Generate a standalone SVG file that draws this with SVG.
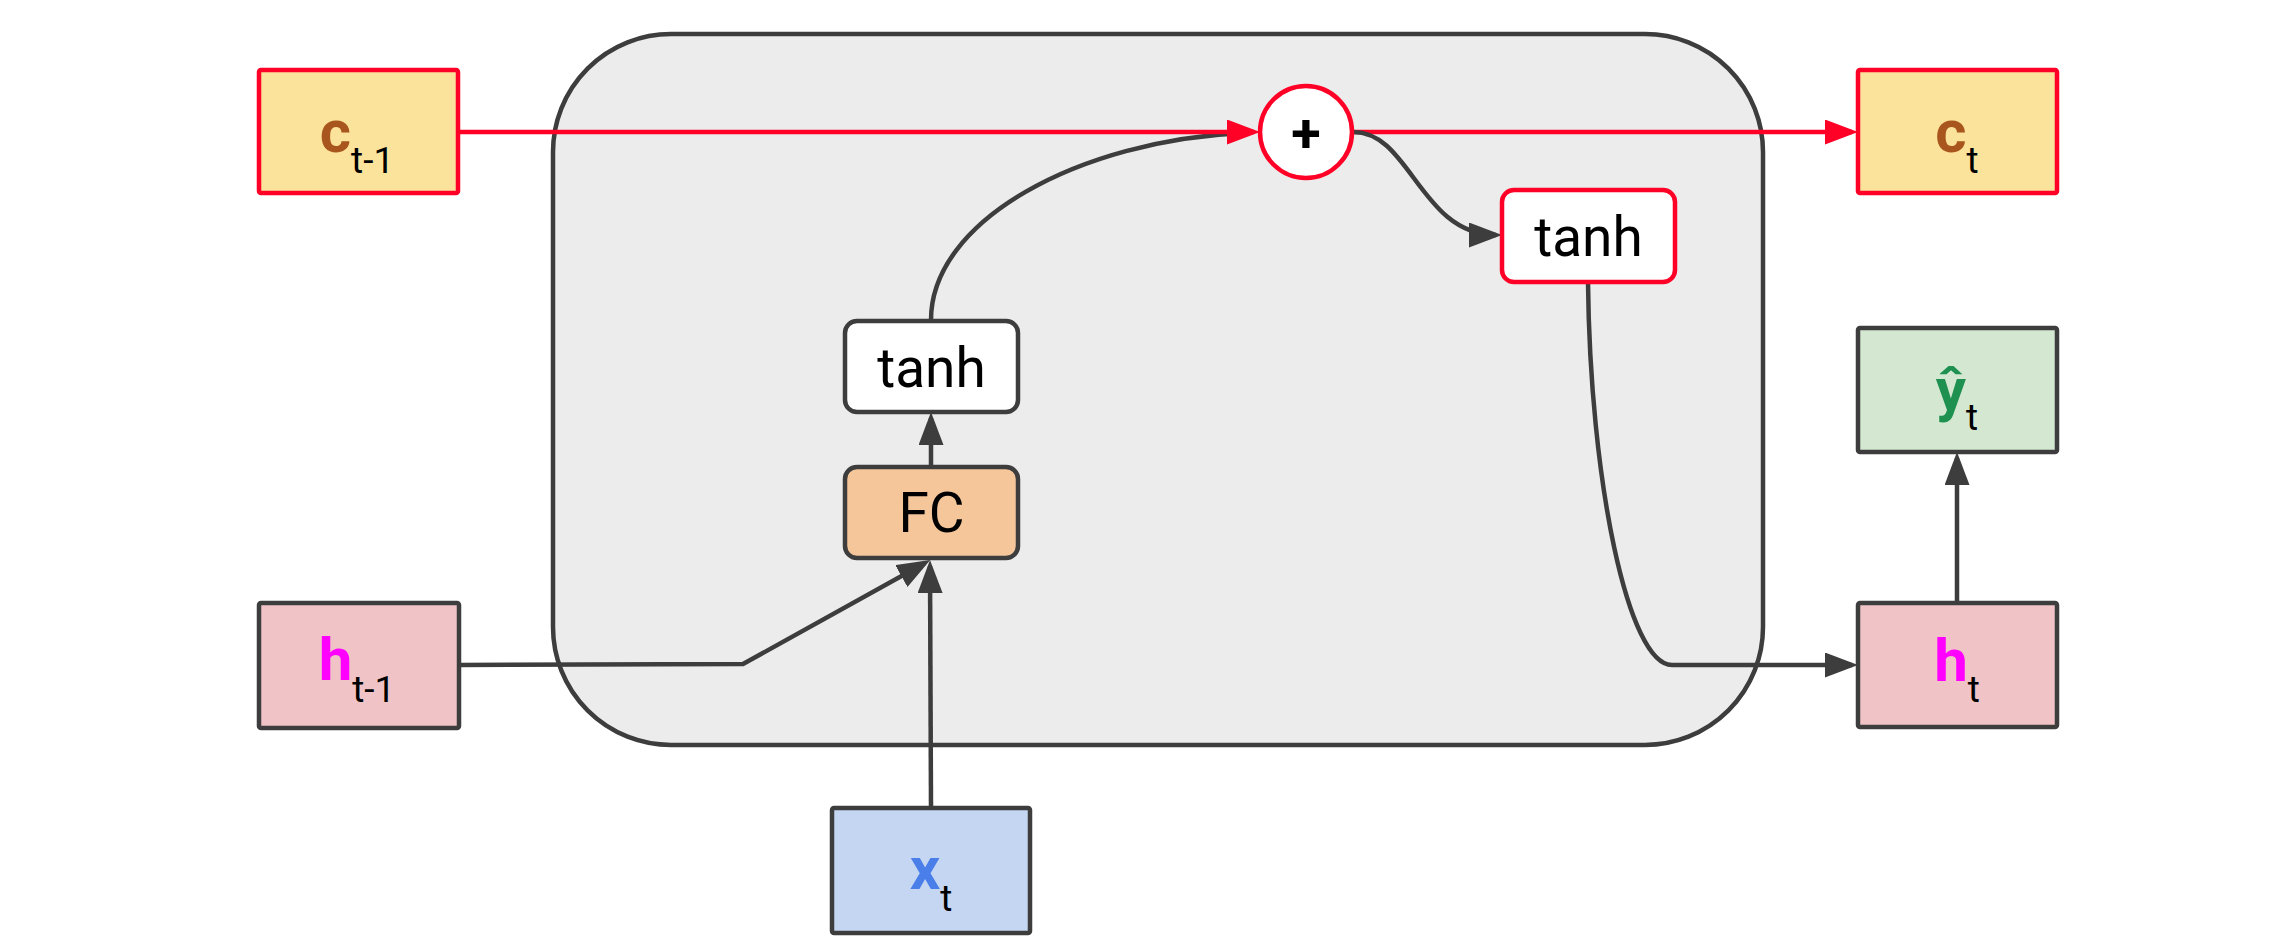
<svg xmlns="http://www.w3.org/2000/svg" width="2276" height="940" viewBox="0 0 2276 940">
<style>
.dk{fill:none;stroke:#3d3d3d;stroke-width:4.5}
.rd{fill:none;stroke:#ff0026;stroke-width:4.5}
.t{font-family:Roboto,"Liberation Sans",sans-serif;text-anchor:middle}
.main{font-weight:bold;font-size:60px}
.sub{font-size:37px;fill:#000}
.op{font-size:55px;fill:#000}
</style>
<defs>
<marker id="ad" markerUnits="userSpaceOnUse" markerWidth="33" markerHeight="25" refX="27" refY="12.5" orient="auto">
<path d="M0,0 L33,12.5 L0,25 z" fill="#3d3d3d"/>
</marker>
<marker id="ar" markerUnits="userSpaceOnUse" markerWidth="33" markerHeight="25" refX="27" refY="12.5" orient="auto">
<path d="M0,0 L33,12.5 L0,25 z" fill="#ff0026"/>
</marker>
</defs>
<rect width="2276" height="940" fill="#ffffff"/>
<g id="cell">
<rect x="553" y="34" width="1210" height="711" rx="118" ry="118" fill="#ececec" stroke="#3d3d3d" stroke-width="4.5"/>
</g>
<g id="connectors">
<path class="dk" d="M931,320 C931,220 1080,140 1244,133"/>
<path class="rd" d="M458,132 L1254,132" marker-end="url(#ar)"/>
<path class="rd" d="M1352,132 L1852,132" marker-end="url(#ar)"/>
<path class="dk" d="M1352,132 C1410,130 1420,235 1496,235" marker-end="url(#ad)"/>
<path class="dk" d="M931,467 L931,418" marker-end="url(#ad)"/>
<path class="dk" d="M459,665 L743,664 L925,563" marker-end="url(#ad)"/>
<path class="dk" d="M931,808 L930,566" marker-end="url(#ad)"/>
<path class="dk" d="M1588,282 C1590,480 1628,665 1672,665 L1852,665" marker-end="url(#ad)"/>
<path class="dk" d="M1957,603 L1957,458" marker-end="url(#ad)"/>
</g>
<g id="c_prev">
<rect x="259" y="70" width="199" height="123" rx="2" fill="#fbe39b" stroke="#ff0026" stroke-width="4.5"/>
<text class="t" x="357" y="152"><tspan class="main" fill="#a9561e">c</tspan><tspan class="sub" dy="21">t-1</tspan></text>
</g>
<g id="h_prev">
<rect x="259" y="603" width="200" height="125" rx="2" fill="#f0c4c6" stroke="#3d3d3d" stroke-width="4.5"/>
<text class="t" x="357" y="680"><tspan class="main" fill="#ff00ff">h</tspan><tspan class="sub" dy="22">t-1</tspan></text>
</g>
<g id="x_t">
<rect x="832" y="808" width="198" height="125" rx="2" fill="#c5d6f3" stroke="#3d3d3d" stroke-width="4.5"/>
<text class="t" x="931" y="889"><tspan class="main" fill="#4a7ee8">x</tspan><tspan class="sub" dy="22">t</tspan></text>
</g>
<g id="fc">
<rect x="845" y="467" width="173" height="91" rx="12" fill="#f5c69a" stroke="#3d3d3d" stroke-width="4.5"/>
<text class="t op" x="931.5" y="532">FC</text>
</g>
<g id="tanh1">
<rect x="845" y="321" width="173" height="91" rx="12" fill="#ffffff" stroke="#3d3d3d" stroke-width="4.5"/>
<text class="t op" x="931.5" y="387">tanh</text>
</g>
<g id="plus">
<circle cx="1306" cy="132" r="46" fill="#ffffff" stroke="#ff0026" stroke-width="4.5"/>
<text class="t" x="1306" y="152" font-size="54" font-weight="bold" fill="#000">+</text>
</g>
<g id="tanh2">
<rect x="1502" y="190" width="173" height="92" rx="12" fill="#ffffff" stroke="#ff0026" stroke-width="4.5"/>
<text class="t op" x="1588.5" y="256">tanh</text>
</g>
<g id="c_t">
<rect x="1858" y="70" width="199" height="123" rx="2" fill="#fbe39b" stroke="#ff0026" stroke-width="4.5"/>
<text class="t" x="1957" y="152"><tspan class="main" fill="#a9561e">c</tspan><tspan class="sub" dy="21">t</tspan></text>
</g>
<g id="y_hat">
<rect x="1858" y="328" width="199" height="124" rx="2" fill="#d4e7d0" stroke="#3d3d3d" stroke-width="4.5"/>
<text class="t" x="1957" y="410"><tspan class="main" fill="#1e9150">ŷ</tspan><tspan class="sub" dy="20">t</tspan></text>
</g>
<g id="h_t">
<rect x="1858" y="603" width="199" height="124" rx="2" fill="#f0c4c6" stroke="#3d3d3d" stroke-width="4.5"/>
<text class="t" x="1957" y="681"><tspan class="main" fill="#ff00ff">h</tspan><tspan class="sub" dy="21">t</tspan></text>
</g>
</svg>
